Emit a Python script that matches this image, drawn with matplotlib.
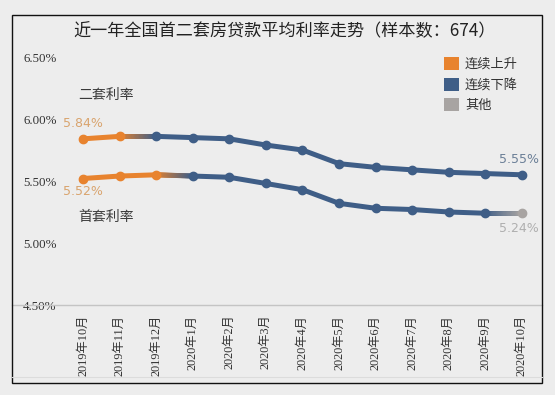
import numpy as np
import matplotlib
matplotlib.use("Agg")
import matplotlib.pyplot as plt
from matplotlib.collections import LineCollection
from matplotlib.patches import Patch, Rectangle
from matplotlib.colors import to_rgb

plt.rcParams['font.family'] = ['Noto Sans CJK SC', 'DejaVu Sans']

months = ['2019年10月', '2019年11月', '2019年12月', '2020年1月', '2020年2月', '2020年3月',
          '2020年4月', '2020年5月', '2020年6月', '2020年7月', '2020年8月', '2020年9月', '2020年10月']
second_rate = [5.84, 5.86, 5.86, 5.85, 5.84, 5.79, 5.75, 5.64, 5.61, 5.59, 5.57, 5.56, 5.55]
first_rate = [5.52, 5.54, 5.55, 5.54, 5.53, 5.48, 5.43, 5.32, 5.28, 5.27, 5.25, 5.24, 5.24]
# trend class per point: 0 = 连续上升, 1 = 连续下降, 2 = 其他
second_trend = [0, 0, 1, 1, 1, 1, 1, 1, 1, 1, 1, 1, 1]
first_trend = [0, 0, 0, 1, 1, 1, 1, 1, 1, 1, 1, 1, 2]
legend_labels = ['连续上升', '连续下降', '其他']
yticks = [4.5, 5.0, 5.5, 6.0, 6.5]

colors = ['#E8832E', '#3F5E87', '#A8A4A2']
bg = '#EDEDED'

W, H = 555, 395
fig = plt.figure(figsize=(W / 100, H / 100), dpi=100, facecolor=bg)

# outer frame
fig.patches.append(Rectangle((12 / W, 1 - 383 / H), 530 / W, 368 / H, transform=fig.transFigure,
                             fill=False, edgecolor='#111111', linewidth=1.0))
fig.lines.append(plt.Line2D([12 / W, 542 / W], [1 - 377 / H, 1 - 377 / H], transform=fig.transFigure,
                            color='#DCDCDC', linewidth=0.8))

ax = fig.add_axes([12 / W, 1 - 305 / H, 530 / W, 248 / H])
ax.set_facecolor('none')
ax.set_xlim(-1.94, 12.55)
ax.set_ylim(4.5, 6.5)


def draw_series(vals, trend):
    x = np.arange(len(vals))
    for i in range(len(vals) - 1):
        c0 = np.array(to_rgb(colors[trend[i]]))
        c1 = np.array(to_rgb(colors[trend[i + 1]]))
        if trend[i] == trend[i + 1]:
            ax.plot(x[i:i + 2], vals[i:i + 2], color=colors[trend[i]], lw=3.6,
                    solid_capstyle='round', zorder=2)
        else:
            # colour fade along the segment
            t = np.linspace(0, 1, 30)
            px = x[i] + t * (x[i + 1] - x[i])
            py = vals[i] + t * (vals[i + 1] - vals[i])
            pts = np.column_stack([px, py]).reshape(-1, 1, 2)
            segs = np.concatenate([pts[:-1], pts[1:]], axis=1)
            cols = [c0 + (c1 - c0) * tt for tt in t[:-1]]
            ax.add_collection(LineCollection(segs, colors=cols, linewidths=3.6,
                                             capstyle='round', zorder=2))
    for i in range(len(vals)):
        ax.plot(x[i], vals[i], 'o', color=colors[trend[i]], ms=6, zorder=3)


draw_series(second_rate, second_trend)
draw_series(first_rate, first_trend)

# end value labels
ax.annotate(f'{second_rate[0]:.2f}%', (0, second_rate[0]), xytext=(0, 15), textcoords='offset pixels',
            ha='center', va='center', color='#D9A46E', fontsize=9, family='DejaVu Sans')
ax.annotate(f'{first_rate[0]:.2f}%', (0, first_rate[0]), xytext=(0, -13), textcoords='offset pixels',
            ha='center', va='center', color='#D9A46E', fontsize=9, family='DejaVu Sans')
ax.annotate(f'{second_rate[-1]:.2f}%', (12, second_rate[-1]), xytext=(-3, 15), textcoords='offset pixels',
            ha='center', va='center', color='#6B7F97', fontsize=9, family='DejaVu Sans')
ax.annotate(f'{first_rate[-1]:.2f}%', (12, first_rate[-1]), xytext=(-3, -15), textcoords='offset pixels',
            ha='center', va='center', color='#AFAFAF', fontsize=9, family='DejaVu Sans')

fig.text(78 / W, 1 - 95 / H, '二套利率', ha='left', va='center', fontsize=10, color='#3A3A3A')
fig.text(78 / W, 1 - 217 / H, '首套利率', ha='left', va='center', fontsize=10, color='#3A3A3A')

fig.text(285 / W, 1 - 31 / H, '近一年全国首二套房贷款平均利率走势（样本数：674）', ha='center', va='center',
         fontsize=12.3, color='#222222')

# axes styling
for s in ['top', 'right', 'left']:
    ax.spines[s].set_visible(False)
ax.spines['bottom'].set_color('#C4C4C4')
ax.spines['bottom'].set_linewidth(1.0)

ax.set_yticks(yticks)
ax.set_yticklabels([f'{v:.2f}%' for v in yticks], family=['Liberation Serif', 'Noto Sans CJK SC'],
                   fontsize=9.3, color='#333333')
ax.tick_params(axis='y', length=0, pad=-8)
for t in ax.get_yticklabels():
    t.set_ha('left')

ax.set_xticks(np.arange(len(months)))
ax.set_xticklabels(months, rotation=90, family=['Liberation Serif', 'Noto Sans CJK SC'],
                   fontsize=8.8, color='#333333')
ax.tick_params(axis='x', length=0, pad=7)

handles = [Patch(facecolor=c, edgecolor='none') for c in colors]
fig.legend(handles, legend_labels, loc='upper left', bbox_to_anchor=(444 / W, 1 - 57 / H),
           frameon=False, fontsize=9.5, handlelength=1.15, handleheight=1.15,
           handletextpad=0.45, labelspacing=0.5, borderpad=0, borderaxespad=0,
           labelcolor='#333333')

fig.savefig('out.png', dpi=100, facecolor=bg)
